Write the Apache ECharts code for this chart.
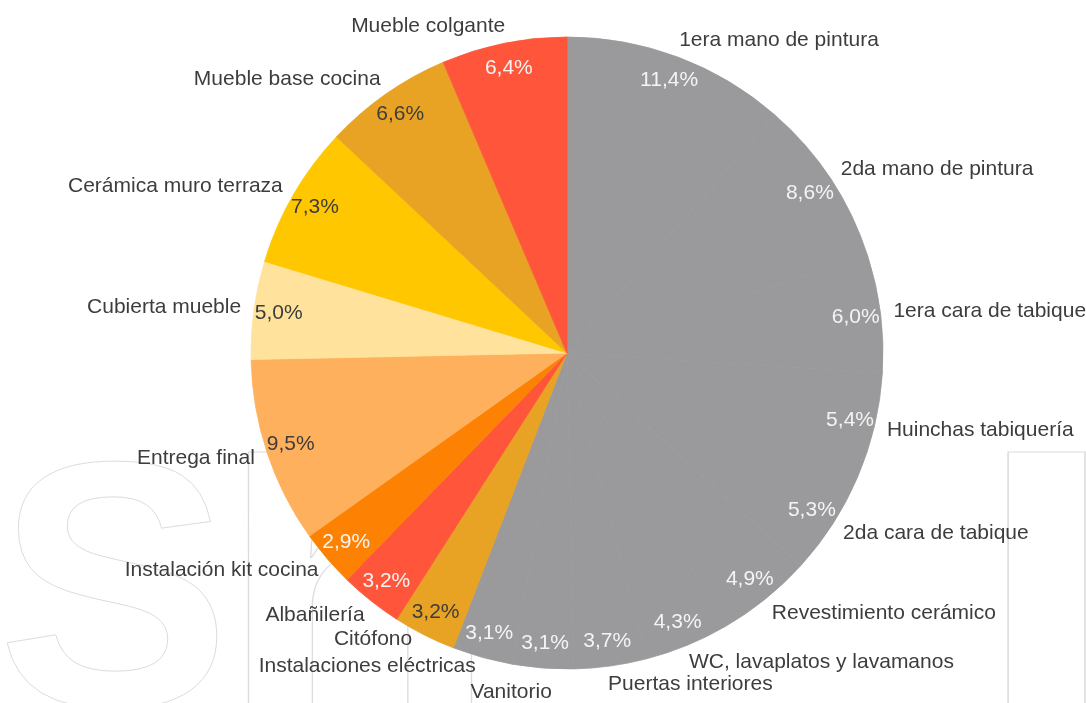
<!DOCTYPE html>
<html><head><meta charset="utf-8">
<script src="https://cdn.jsdelivr.net/npm/echarts@6/dist/echarts.min.js"></script>
<style>html,body{margin:0;padding:0;background:#fff}#c{width:1086px;height:703px}</style>
</head><body><div id="c"></div>
<script>
const categories = ['1era mano de pintura','2da mano de pintura','1era cara de tabique','Huinchas tabiquería','2da cara de tabique','Revestimiento cerámico','WC, lavaplatos y lavamanos','Puertas interiores','Vanitorio','Instalaciones eléctricas','Citófono','Albañilería','Instalación kit cocina','Entrega final','Cubierta mueble','Cerámica muro terraza','Mueble base cocina','Mueble colgante'];
const values = [11.4,8.6,6.0,5.4,5.3,4.9,4.3,3.7,3.1,3.1,3.2,3.2,2.9,9.5,5.0,7.3,6.6,6.4];

const GRAY = '#9a9a9c', RED = '#ff553b', GOLD = '#e8a224';
const sliceColors = [GRAY,GRAY,GRAY,GRAY,GRAY,GRAY,GRAY,GRAY,GRAY,GRAY,GOLD,RED,'#fd8204','#ffb05c','#ffe39c','#ffc700',GOLD,RED];
const LIGHT = '#f4f4f4', DARK = '#3d3d3d';
const pctColors = [LIGHT,LIGHT,LIGHT,LIGHT,LIGHT,LIGHT,LIGHT,LIGHT,LIGHT,LIGHT,DARK,LIGHT,LIGHT,DARK,DARK,DARK,DARK,LIGHT];
// small label nudges (Excel-style placement of crowded bottom names)
const nameNudge = {8:[5,6], 9:[-7,-9], 10:[-9,-12]};

const FONT = '"Liberation Sans", Arial, sans-serif';
const CENTER = [567, 353], R = 316;

const chart = echarts.init(document.getElementById('c'), null, {renderer:'canvas'});
const wmStyle = {fill:'none', stroke:'#dcdcdc', lineWidth:1, font:'bold 350px "Liberation Sans"', verticalAlign:'middle'};
chart.setOption({
  backgroundColor:'#ffffff',
  animation:false,
  graphic:[
    {type:'text', x:-3, y:609, z:0, silent:true, style:Object.assign({text:'S'}, wmStyle)},
    {type:'text', x:216, y:609, scaleX:1.33, z:0, silent:true, style:Object.assign({text:'h'}, wmStyle)},
    {type:'text', x:969, y:609, scaleX:1.6, z:0, silent:true, style:Object.assign({text:'l'}, wmStyle)}
  ],
  series:[
    {
      type:'pie', z:2, center:CENTER, radius:[0,R], startAngle:90, clockwise:true,
      avoidLabelOverlap:false, silent:true,
      label:{show:true, position:'outside', color:'#3d3d3d', fontFamily:FONT, fontSize:21, distanceToLabelLine:-5,
        formatter:p=>p.name},
      labelLine:{show:false, length:18, length2:0},
      labelLayout:function(p){
        const n = nameNudge[p.dataIndex];
        return {hideOverlap:false, moveOverlap:null, dx:n?n[0]:0, dy:n?n[1]:0};
      },
      emphasis:{disabled:true},
      data: categories.map((n,i)=>({name:n, value:values[i],
        itemStyle:{color:sliceColors[i], borderColor:sliceColors[i], borderWidth:0.8}}))
    },
    {
      type:'pie', z:3, center:CENTER, radius:[260,R], startAngle:90, clockwise:true,
      avoidLabelOverlap:false, silent:true,
      itemStyle:{color:'rgba(0,0,0,0)', borderWidth:0},
      label:{show:true, position:'inside', fontFamily:FONT, fontSize:21,
        formatter:p=>p.value.toFixed(1).replace('.', ',')+'%'},
      labelLine:{show:false},
      labelLayout:{hideOverlap:false},
      emphasis:{disabled:true},
      data: categories.map((n,i)=>({name:n, value:values[i], label:{color:pctColors[i]}}))
    }
  ]
});
</script>
</body></html>
